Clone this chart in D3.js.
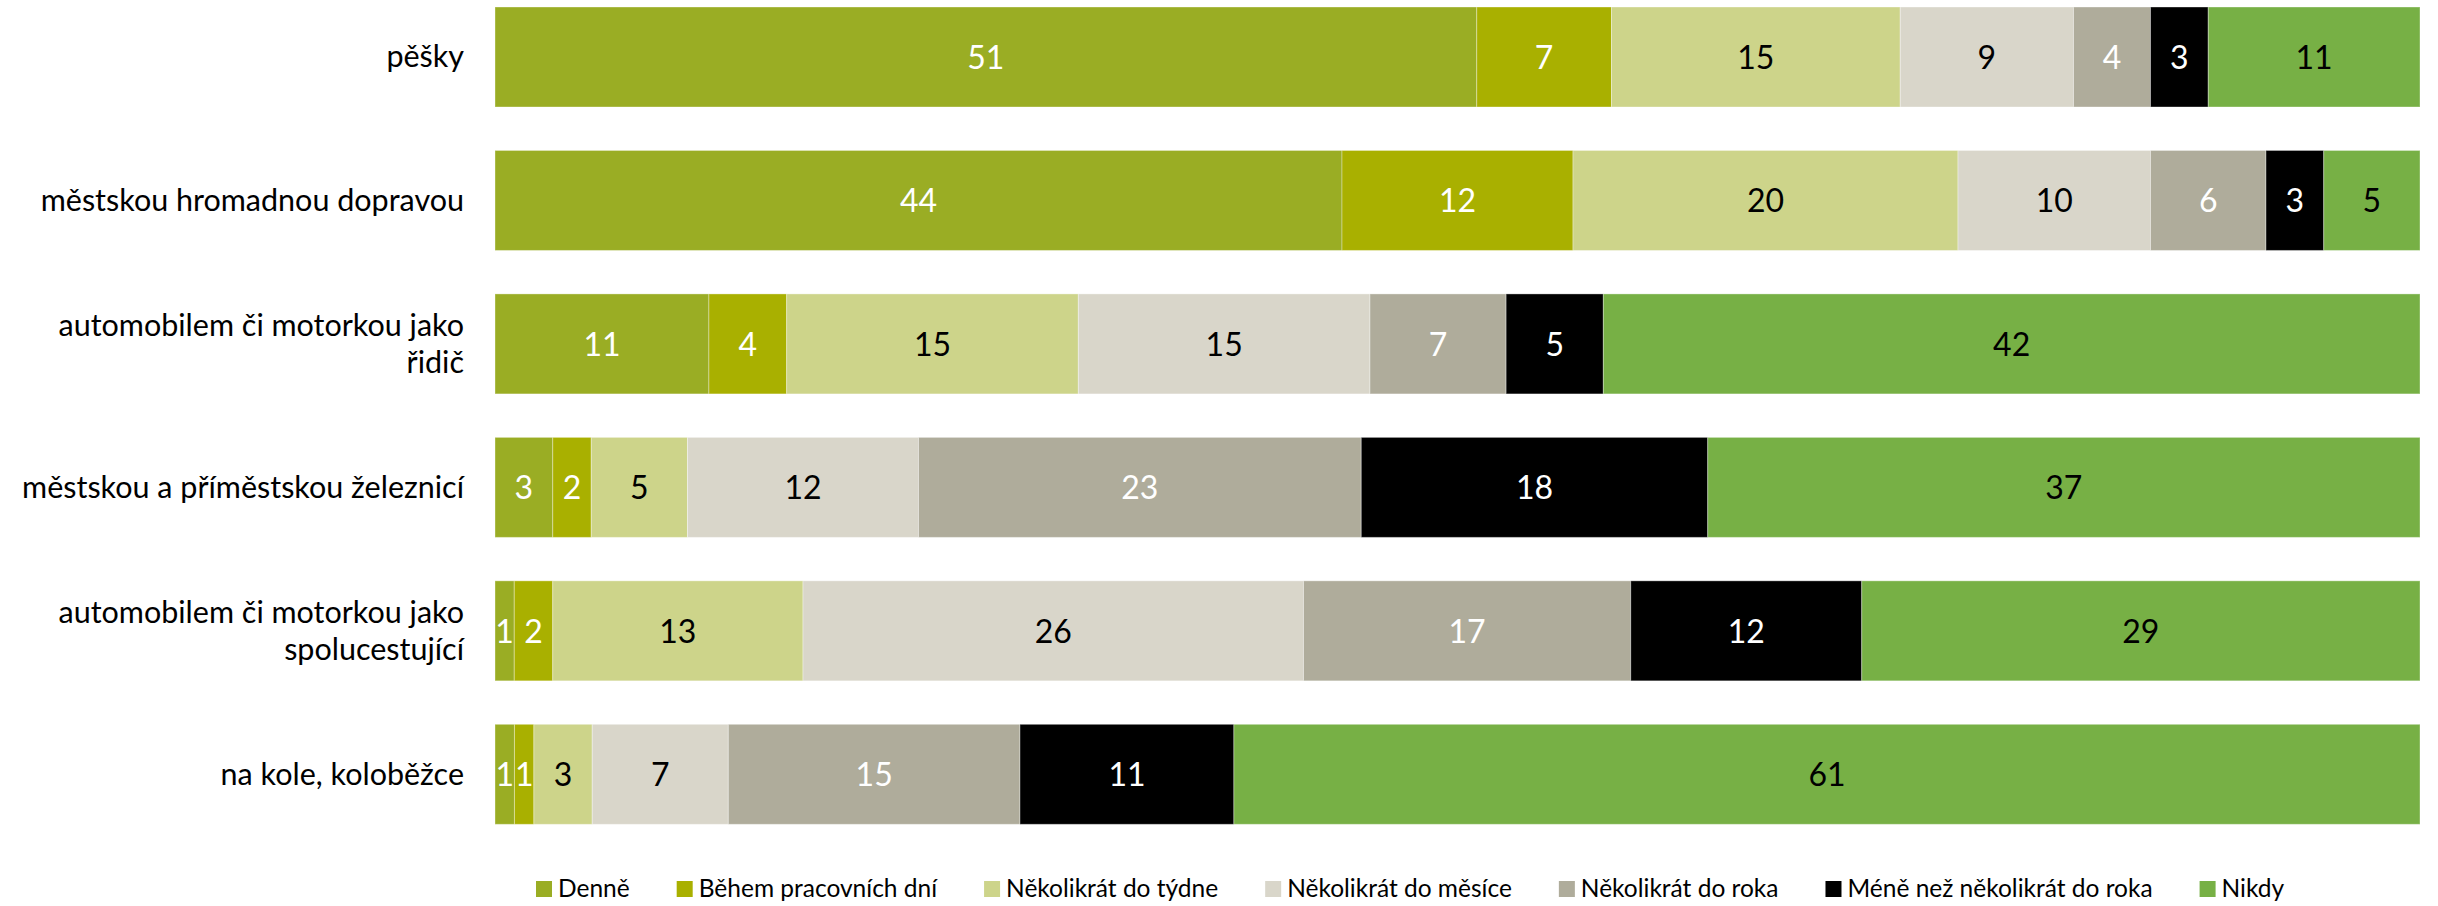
<!DOCTYPE html>
<html><head><meta charset="utf-8">
<script src="https://cdn.jsdelivr.net/npm/d3@7"></script>
<style>body{margin:0;background:#fff} svg{display:block} text{font-family:Lato, "Noto Sans", sans-serif}</style>
</head><body><svg id="chart" width="2438" height="906"></svg>
<script>
const categories = ["pěšky","městskou hromadnou dopravou","automobilem či motorkou jako\nřidič","městskou a příměstskou železnicí","automobilem či motorkou jako\nspolucestující","na kole, koloběžce"];
const series = ["Denně","Během pracovních dní","Několikrát do týdne","Několikrát do měsíce","Několikrát do roka","Méně než několikrát do roka","Nikdy"];
const denne  = [51,44,11,3,1,1];
const behem  = [7,12,4,2,2,1];
const tydne  = [15,20,15,5,13,3];
const mesice = [9,10,15,12,26,7];
const roka   = [4,6,7,23,17,15];
const mene   = [3,3,5,18,12,11];
const nikdy  = [11,5,42,37,29,61];
const colors = ["#9aad24","#a9b000","#cdd48a","#d9d6ca","#afac9b","#000000","#77b045"];
const labelColors = ["#fff","#fff","#000","#000","#fff","#fff","#000"];

const seriesValues = [denne, behem, tydne, mesice, roka, mene, nikdy];
const table = categories.map((c, i) => {
  const row = {category: c};
  series.forEach((s, j) => row[s] = seriesValues[j][i]);
  return row;
});
const stacked = d3.stack().keys(series).offset(d3.stackOffsetExpand)(table);

const svg = d3.select("#chart");
const x = d3.scaleLinear().domain([0, 1]).range([495, 2420]);
const y = d3.scaleBand().domain(categories).range([-14.75, 846.05]).paddingInner(0.303).paddingOuter(0.1516);

const layers = svg.append("g").selectAll("g").data(stacked).join("g")
  .attr("fill", (d, i) => colors[i]);
layers.selectAll("rect").data(d => d.map(p => ({p, key: d.key}))).join("rect")
  .attr("x", d => x(d.p[0]))
  .attr("y", d => y(d.p.data.category))
  .attr("width", d => x(d.p[1]) - x(d.p[0]))
  .attr("height", y.bandwidth())
  .attr("stroke", "#fff").attr("stroke-opacity", 0.35).attr("stroke-width", 1);

layers.selectAll("text").data((d, i) => d.map(p => ({p, key: d.key, i}))).join("text")
  .attr("x", d => (x(d.p[0]) + x(d.p[1])) / 2)
  .attr("y", d => y(d.p.data.category) + y.bandwidth() / 2 + 12)
  .attr("text-anchor", "middle")
  .attr("font-size", 32)
  .attr("fill", d => labelColors[d.i])
  .text(d => d.p.data[d.key]);

// category labels
const cat = svg.append("g").selectAll("text").data(categories).join("text")
  .attr("text-anchor", "end")
  .attr("font-size", 30.5)
  .attr("fill", "#000");
cat.each(function(c) {
  const lines = c.split("\n");
  const cy = y(c) + y.bandwidth() / 2;
  const lh = 37;
  const t = d3.select(this);
  lines.forEach((l, k) => {
    t.append("tspan").attr("x", 464)
      .attr("y", cy + 10.5 + (k - (lines.length - 1) / 2) * lh)
      .text(l);
  });
});

// legend
const leg = svg.append("g");
let lx = 536;
series.forEach((s, i) => {
  leg.append("rect").attr("x", lx).attr("y", 881).attr("width", 16).attr("height", 16).attr("fill", colors[i]);
  const t = leg.append("text").attr("x", lx + 22).attr("y", 897).attr("font-size", 24.5).attr("fill", "#000").text(s);
  lx += 22 + t.node().getComputedTextLength() + 47;
});
</script></body></html>
